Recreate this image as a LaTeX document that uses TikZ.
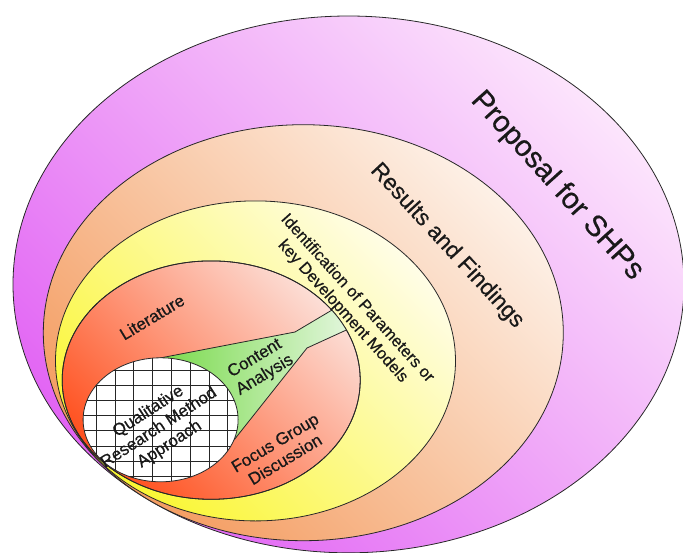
\documentclass[tikz,border=0pt]{standalone}
\usepackage{fontspec}
\setmainfont{Liberation Sans}[BoldFont={Liberation Sans}, BoldFeatures={FakeBold=0.45}]
\definecolor{pd}{RGB}{226,100,244}
\definecolor{pl}{RGB}{252,228,252}
\definecolor{od}{RGB}{244,156,96}
\definecolor{ol}{RGB}{253,240,230}
\definecolor{yd}{RGB}{250,246,50}
\definecolor{yl}{RGB}{255,253,230}
\definecolor{rd}{RGB}{255,80,30}
\definecolor{rl}{RGB}{252,222,214}
\definecolor{gd}{RGB}{110,215,60}
\definecolor{gl}{RGB}{242,250,242}
\definecolor{edge}{RGB}{40,40,40}
\begin{document}
\begin{tikzpicture}[x=1pt,y=1pt,
  ring/.style={draw=edge, line width=0.8pt},
  gridline/.style={draw=black!85, line width=0.9pt},
  lbl/.style={align=center, inner sep=0pt, text=black!90},
  small/.style={font=\fontsize{17}{19.5}\selectfont\bfseries}]
\useasboundingbox (0,0) rectangle (683,-552);
% rings, outer to inner
\path[ring, top color=pl, bottom color=pd, shading angle=-45]
  (348.5,-284.4) ellipse [x radius=335.5, y radius=268.4];
\path[ring, top color=ol, bottom color=od, shading angle=-45]
  (303.3,-332.7) ellipse [x radius=260, y radius=208];
\path[ring, top color=yl, bottom color=yd, shading angle=-45]
  (255.5,-360.9) ellipse [x radius=200, y radius=160];
\path[ring, top color=rl, bottom color=rd, shading angle=-45]
  (211.2,-380.1) ellipse [x radius=149, y radius=119.2];
% content analysis funnel
\begin{scope}
  \clip (211.2,-380.1) ellipse [x radius=149, y radius=119.2];
  \shade[left color=gd, right color=gl]
    (140,-385) -- (160,-358) -- (295,-332) -- (359,-294) -- (377,-316)
    -- (307,-348) -- (234,-440) -- (150,-440) -- cycle;
  \draw[ring] (160,-358) -- (295,-332) -- (359,-294);
  \draw[ring] (377,-316) -- (307,-348) -- (234,-440);
\end{scope}
\draw[ring] (211.2,-380.1) ellipse [x radius=149, y radius=119.2];
% grid circle
\begin{scope}
  \clip (160.6,-419.8) ellipse [x radius=77.5, y radius=62];
  \fill[white] (60,-340) rectangle (260,-500);
  \foreach \k in {0,...,10} {
    \draw[gridline] ({77.5+18.8*\k},-340) -- ++(0,-170);
    \draw[gridline] (60,{-(354.9+15.2*\k)}) -- ++(220,0);
  }
\end{scope}
\draw[ring] (160.6,-419.8) ellipse [x radius=77.5, y radius=62];
% labels
\node[lbl, font=\fontsize{29.5}{33}\selectfont\bfseries, rotate=-48] (prop) at (557,-186) {Proposal for SHPs};
\node[lbl, font=\fontsize{23}{27}\selectfont\bfseries, rotate=-47.3] (res) at (447,-246) {Results and Findings};
\node[lbl, font=\fontsize{16.5}{19.5}\selectfont\bfseries, rotate=-48] (ident) at (350,-305) {Identification of Parameters or\\key Development Models};
\node[lbl, small, rotate=31] (lit) at (152,-317) {Literature};
\node[lbl, small, rotate=31] (cont) at (260,-367) {Content\\Analysis};
\node[lbl, small, rotate=31] (focus) at (280,-451) {Focus Group\\Discussion};
\node[lbl, small, rotate=33] (qual) at (159,-428) {Qualitative\\Research Method\\Approach};
\end{tikzpicture}
\end{document}
